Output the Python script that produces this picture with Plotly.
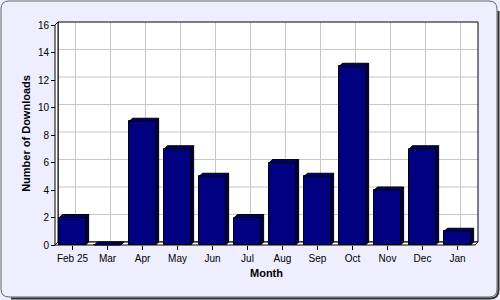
import plotly.graph_objects as go

# ---- data ----
months = ["Feb 25", "Mar", "Apr", "May", "Jun", "Jul", "Aug", "Sep", "Oct", "Nov", "Dec", "Jan"]
downloads = [2, 0, 9, 7, 5, 2, 6, 5, 13, 4, 7, 1]
y_ticks = [0, 2, 4, 6, 8, 10, 12, 14, 16]
x_title = "Month"
y_title = "Number of Downloads"

# ---- geometry / style ----
W, H = 500, 300
L, R, T, B = 53, 20, 20, 53
plot_w, plot_h = W - L - R, H - T - B
PX_CAT = 35.0
PX_UNIT = 13.75
DEPTH = 3.0
DX = DEPTH / PX_CAT
DY = DEPTH / PX_UNIT
PAD_X = 2 / PX_CAT
PAD_Y = 2 / PX_UNIT
BAR_W = 0.75
YMAX = y_ticks[-1]
FRONT = "#000080"
SIDE = "#00004a"
TOP = "#00006e"
GRID = "#c8c8c8"
BG = "#eeeeff"
FONT = "Liberation Sans, Arial, sans-serif"

xs = list(range(len(months)))
x0, x1 = -0.5, len(months) - 0.5

fig = go.Figure()

# front faces
fig.add_trace(go.Bar(
    x=xs, y=downloads, width=BAR_W,
    marker=dict(color=FRONT, line=dict(color="black", width=1)),
    hoverinfo="skip", showlegend=False,
))

# side and top faces
sx, sy, tx, ty = [], [], [], []
for xi, v in zip(xs, downloads):
    r = xi + BAR_W / 2
    l = xi - BAR_W / 2
    sx += [r, r + DX, r + DX, r, r, None]
    sy += [0, DY, v + DY, v, 0, None]
    tx += [l, l + DX, r + DX, r, l, None]
    ty += [v, v + DY, v + DY, v, v, None]
fig.add_trace(go.Scatter(x=sx, y=sy, mode="lines", fill="toself", fillcolor=SIDE,
                         line=dict(color="black", width=1), hoverinfo="skip", showlegend=False))
fig.add_trace(go.Scatter(x=tx, y=ty, mode="lines", fill="toself", fillcolor=TOP,
                         line=dict(color="black", width=1), hoverinfo="skip", showlegend=False))

shapes = []
# back wall fill
shapes.append(dict(type="rect", xref="x", yref="y", x0=x0 + DX, y0=DY, x1=x1 + DX, y1=YMAX + DY,
                   fillcolor="white", line=dict(width=0), layer="below"))
# grid lines on back wall
for xi in xs:
    shapes.append(dict(type="line", xref="x", yref="y", x0=xi + DX, x1=xi + DX, y0=DY, y1=YMAX + DY,
                       line=dict(color=GRID, width=1), layer="below"))
for t in y_ticks[1:-1]:
    shapes.append(dict(type="line", xref="x", yref="y", x0=x0 + DX, x1=x1 + DX, y0=t + DY, y1=t + DY,
                       line=dict(color=GRID, width=1), layer="below"))
# back wall outline
shapes.append(dict(type="rect", xref="x", yref="y", x0=x0 + DX, y0=DY, x1=x1 + DX, y1=YMAX + DY,
                   fillcolor="rgba(0,0,0,0)", line=dict(color="black", width=1), layer="below"))
# left wall
shapes.append(dict(type="path", xref="x", yref="y",
                   path=f"M {x0},0 L {x0},{YMAX} L {x0+DX},{YMAX+DY} L {x0+DX},{DY} Z",
                   fillcolor="white", line=dict(color="black", width=1), layer="below"))
# floor
shapes.append(dict(type="path", xref="x", yref="y",
                   path=f"M {x0},0 L {x1},0 L {x1+DX},{DY} L {x0+DX},{DY} Z",
                   fillcolor="white", line=dict(color="black", width=1), layer="below"))


def pp(px, py):
    return (px - L) / plot_w, (H - B - py) / plot_h


def path_px(cmds):
    out = []
    for c in cmds:
        if isinstance(c, str):
            out.append(c)
        else:
            a, b = pp(*c)
            out.append(f"{a:.5f},{b:.5f}")
    return " ".join(out)


rr = 8
bx0, by0, bx1, by1 = 1, 1, 497, 297
border = path_px(["M", (bx0 + rr, by0), "L", (bx1 - rr, by0), "Q", (bx1, by0), (bx1, by0 + rr),
                  "L", (bx1, by1 - rr), "Q", (bx1, by1), (bx1 - rr, by1),
                  "L", (bx0 + rr, by1), "Q", (bx0, by1), (bx0, by1 - rr),
                  "L", (bx0, by0 + rr), "Q", (bx0, by0), (bx0 + rr, by0), "Z"])
shapes.append(dict(type="path", xref="paper", yref="paper", path=border,
                   line=dict(color="#666666", width=1), fillcolor="rgba(0,0,0,0)"))
shadow = path_px(["M", (bx1 + 1.5, by0 + rr + 2), "L", (bx1 + 1.5, by1 - rr + 1),
                  "Q", (bx1 + 1.5, by1 + 1.5), (bx1 - rr + 1, by1 + 1.5),
                  "L", (bx0 + rr + 2, by1 + 1.5)])
shapes.append(dict(type="path", xref="paper", yref="paper", path=shadow,
                   line=dict(color="#333333", width=2), fillcolor="rgba(0,0,0,0)"))

fig.update_layout(
    width=W, height=H,
    margin=dict(l=L, r=R, t=T, b=B, pad=0),
    paper_bgcolor=BG, plot_bgcolor=BG,
    font=dict(family=FONT, size=10, color="black"),
    showlegend=False,
    shapes=shapes,
    bargap=0,
    xaxis=dict(
        range=[x0 - PAD_X, x1 + DX + PAD_X], tickvals=xs, ticktext=months,
        ticks="outside", ticklen=4, tickcolor="black", tickwidth=1,
        showgrid=False, zeroline=False, showline=False,
        anchor="free", position=PAD_Y * PX_UNIT / plot_h,
        tickfont=dict(size=10, family=FONT),
        title=dict(text=x_title, font=dict(size=11, family=FONT, weight="bold"), standoff=6),
        fixedrange=True,
    ),
    yaxis=dict(
        range=[-PAD_Y, YMAX + DY + PAD_Y], tickvals=y_ticks,
        ticks="outside", ticklen=4, tickcolor="black", tickwidth=1,
        showgrid=False, zeroline=False, showline=False,
        anchor="free", position=PAD_X * PX_CAT / plot_w,
        tickfont=dict(size=10, family=FONT),
        title=dict(text=y_title, font=dict(size=11, family=FONT, weight="bold"), standoff=4),
        fixedrange=True,
    ),
)

fig.write_html("out.html", config={"displayModeBar": False})
